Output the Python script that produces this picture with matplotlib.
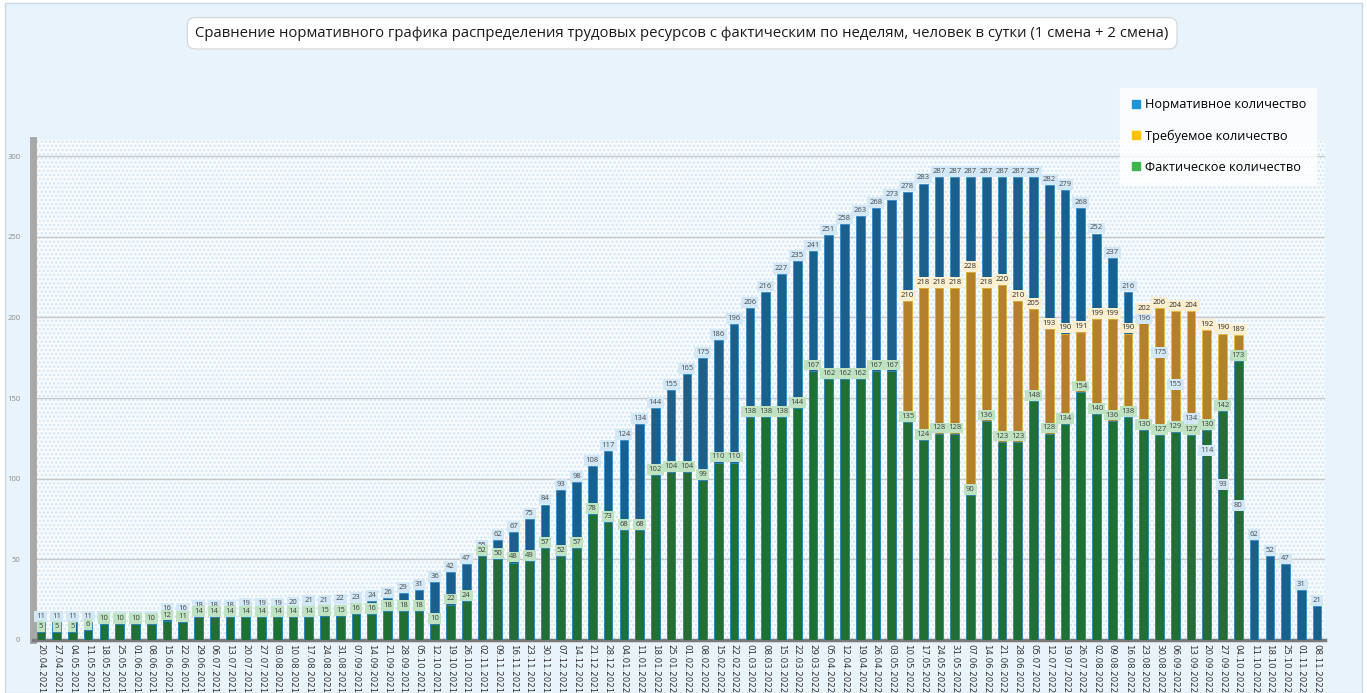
import numpy as np
import pandas as pd
import matplotlib
matplotlib.use("Agg")
import matplotlib.pyplot as plt
from matplotlib.patches import Rectangle
from matplotlib.lines import Line2D

plt.rcParams['font.family'] = ['Open Sans', 'DejaVu Sans']
plt.rcParams['hatch.linewidth'] = 1.2

nan = np.nan

# weekly dates, 20.04.2021 .. 08.11.2022
weeks = pd.date_range('2021-04-20', periods=82, freq='7D').strftime('%d.%m.%Y').tolist()

normative = [11, 11, 11, 11, 11, 11, 11, 11, 16, 16,
             18, 18, 18, 19, 19, 19, 20, 21, 21, 22,
             23, 24, 26, 29, 31, 36, 42, 47, 55, 62,
             67, 75, 84, 93, 98, 108, 117, 124, 134, 144,
             155, 165, 175, 186, 196, 206, 216, 227, 235, 241,
             251, 258, 263, 268, 273, 278, 283, 287, 287, 287,
             287, 287, 287, 287, 282, 279, 268, 252, 237, 216,
             196, 175, 155, 134, 114, 93, 80, 62, 52, 47,
             31, 21]

required = [nan] * 55 + [210, 218, 218, 218, 228, 218, 220, 210, 205, 193,
                         190, 191, 199, 199, 190, 202, 206, 204, 204, 192,
                         190, 189] + [nan] * 5

actual = [5, 5, 5, 6, 10, 10, 10, 10, 12, 11,
          14, 14, 14, 14, 14, 14, 14, 14, 15, 15,
          16, 16, 18, 18, 18, 10, 22, 24, 52, 50,
          48, 49, 57, 52, 57, 78, 73, 68, 68, 102,
          104, 104, 99, 110, 110, 138, 138, 138, 144, 167,
          162, 162, 162, 167, 167, 135, 124, 128, 128, 90,
          136, 123, 123, 148, 128, 134, 154, 140, 136, 138,
          130, 127, 129, 127, 130, 142, 173] + [nan] * 5

series_names = ['Нормативное количество', 'Требуемое количество', 'Фактическое количество']
title = ('Сравнение нормативного графика распределения трудовых ресурсов с фактическим '
         'по неделям, человек в сутки (1 смена + 2 смена)')

fig = plt.figure(figsize=(13.67, 6.93), dpi=100, facecolor='white')
fig.patches.append(Rectangle((0.004, 0.0), 0.992, 0.996, transform=fig.transFigure,
                             facecolor='#e9f3fb', edgecolor='#c9d9e6', lw=1, zorder=-10))

ax = fig.add_axes([33 / 1367, 1 - 640 / 693, (1325 - 33) / 1367, 500 / 693])
ax.set_facecolor('#f9fcfe')
ax.add_patch(Rectangle((0, 0), 1, 1, transform=ax.transAxes, facecolor='none',
                       edgecolor='#d3e6f5', hatch='....', lw=0, zorder=0))

x = np.arange(len(weeks))
w = 0.55
ax.bar(x, normative, width=w, color='#1b5f8c', edgecolor='#2f8dcc', linewidth=0.6, zorder=3)
ax.bar(x, required, width=w, color='#b5802c', edgecolor='#f0b52c', linewidth=0.6, zorder=4)
ax.bar(x, actual, width=w, color='#216f35', edgecolor='#2b8ac4', linewidth=0.6, zorder=5)

def put_labels(vals, fc, tc, z):
    for xi, v in zip(x, vals):
        if np.isnan(v):
            continue
        ax.annotate(str(int(v)), (xi, v), xytext=(0, 1.5), textcoords='offset points',
                    ha='center', va='bottom', fontsize=5.5, color=tc, zorder=z,
                    bbox=dict(boxstyle='square,pad=0.25', fc=fc, ec='none'))

put_labels(np.array(normative, float), '#d2e8f7', '#4a4a4a', 6)
put_labels(np.array(required, float), '#fcefcf', '#2a2a2a', 7)
put_labels(np.array(actual, float), '#bfe3c2', '#3d3d3d', 8)

ax.set_xlim(-0.5, len(weeks) - 0.5)
ax.set_ylim(0, 310)
ax.set_yticks(np.arange(0, 301, 50))
ax.yaxis.grid(True, color='#c8c8c8', lw=1, zorder=1)
ax.set_axisbelow(True)
ax.set_xticks(x)
ax.set_xticklabels(weeks, rotation=270, fontsize=6.2, color='#333333', family='DejaVu Sans')
ax.tick_params(axis='x', length=0, pad=3)
ax.tick_params(axis='y', length=0, pad=9, labelsize=5.5, labelcolor='#8a8a8a')
for s in ('top', 'right'):
    ax.spines[s].set_visible(False)
ax.spines['left'].set_color('#a8a8a8')
ax.spines['left'].set_linewidth(5)
ax.spines['bottom'].set_color('#7a7a7a')
ax.spines['bottom'].set_linewidth(2.5)

fig.text(0.499, 0.952, title, ha='center', va='center', fontsize=10.7, color='#1a1a1a',
         bbox=dict(boxstyle='round,pad=0.55', fc='white', ec='#d4d4d4', lw=0.8))

handles = [Line2D([], [], marker='s', ls='none', markersize=6, color=c)
           for c in ('#1f95d8', '#ffc000', '#3fb44c')]
leg = fig.legend(handles, series_names, loc='upper left', bbox_to_anchor=(0.815, 0.882),
                 fontsize=9.2, frameon=True, fancybox=False, labelspacing=1.4,
                 handletextpad=0.2, handlelength=0.9, borderpad=0.8)
leg.get_frame().set_facecolor('white')
leg.get_frame().set_edgecolor('white')

fig.savefig('out.png', dpi=100, facecolor=fig.get_facecolor())
